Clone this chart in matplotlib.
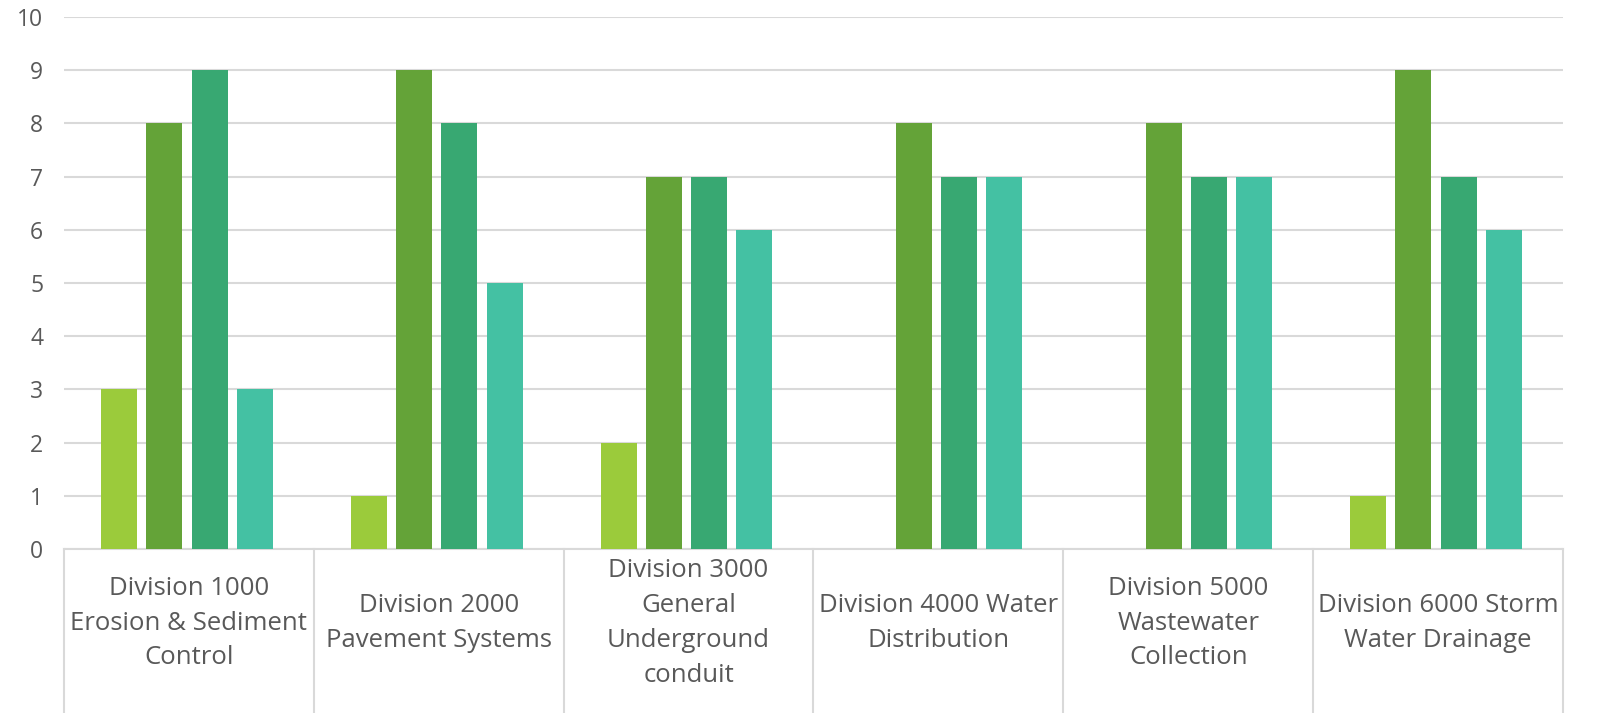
import matplotlib
matplotlib.use("Agg")
import matplotlib.pyplot as plt
import matplotlib.transforms as mtransforms
import numpy as np

# data
categories = [
    "Division 1000\nErosion & Sediment\nControl",
    "Division 2000\nPavement Systems",
    "Division 3000\nGeneral\nUnderground\nconduit",
    "Division 4000 Water\nDistribution",
    "Division 5000\nWastewater\nCollection",
    "Division 6000 Storm\nWater Drainage",
]
series_1 = [3, 1, 2, 0, 0, 1]
series_2 = [8, 9, 7, 8, 8, 9]
series_3 = [9, 8, 7, 7, 7, 7]
series_4 = [3, 5, 6, 7, 7, 6]
y_ticks = list(range(0, 11))

colors = ["#9BCB3B", "#64A338", "#38A872", "#44C1A3"]
grid_col = "#D9D9D9"
text_col = "#595959"

plt.rcParams['font.family'] = ['Open Sans', 'DejaVu Sans']

fig = plt.figure(figsize=(16.24, 7.13), dpi=100)
ax = fig.add_axes([64 / 1624, 1 - 549 / 713, (1563 - 64) / 1624, (549 - 17) / 713])

x = np.arange(len(categories))
step = 0.181
width = 0.144
for i, (vals, c) in enumerate(zip([series_1, series_2, series_3, series_4], colors)):
    ax.bar(x + (i - 1.5) * step - 0.008, vals, width=width, color=c, zorder=3)

ax.set_xlim(-0.5, len(categories) - 0.5)
ax.set_ylim(0, 10)
ax.set_yticks(y_ticks)
ax.set_yticklabels([str(v) for v in y_ticks], fontsize=16.5, color=text_col)
ax.tick_params(axis='y', length=0, pad=15)
ax.set_xticks([])
ax.grid(axis='y', color=grid_col, linewidth=1.5, zorder=0)
for s in ['left', 'right', 'top']:
    ax.spines[s].set_visible(False)
ax.spines['bottom'].set_color(grid_col)
ax.spines['bottom'].set_linewidth(1.5)

# category boxes below the axis, excel style
trans = mtransforms.blended_transform_factory(ax.transData, ax.transAxes)
bottom = -(713 - 549) / 532.0
for b in np.arange(-0.5, len(categories), 1.0):
    ax.plot([b, b], [0, bottom], color=grid_col, linewidth=1.5,
            transform=trans, clip_on=False)

for xi, lab in zip(x, categories):
    ax.text(xi, -(623 - 549) / 532.0, lab, transform=trans, ha='center',
            va='center', fontsize=18.5, color=text_col, linespacing=1.52)

fig.savefig("out.png", dpi=100)
